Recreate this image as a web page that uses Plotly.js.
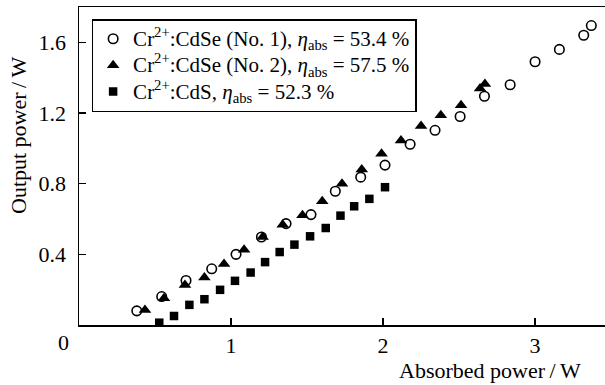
<!DOCTYPE html>
<html>
<head>
<meta charset="utf-8">
<script src="https://cdn.plot.ly/plotly-3.0.1.min.js"></script>
<style>html,body{margin:0;padding:0;background:#fff;}#chart{width:605px;height:385px;}</style>
</head>
<body>
<div id="chart"></div>
<script>
// Series 1: Cr2+:CdSe (No. 1)
const cdse1X = [0.38, 0.544, 0.704, 0.873, 1.033, 1.20, 1.362, 1.526, 1.686, 1.853, 2.013, 2.178, 2.342, 2.507, 2.667, 2.836, 3.0, 3.16, 3.32, 3.37];
const cdse1Y = [0.080, 0.161, 0.252, 0.318, 0.40, 0.498, 0.574, 0.625, 0.757, 0.837, 0.905, 1.023, 1.102, 1.18, 1.295, 1.36, 1.49, 1.56, 1.64, 1.695];
// Series 2: Cr2+:CdSe (No. 2)
const cdse2X = [0.434, 0.559, 0.697, 0.825, 0.954, 1.086, 1.208, 1.34, 1.47, 1.60, 1.73, 1.86, 1.99, 2.118, 2.25, 2.38, 2.513, 2.638, 2.67];
const cdse2Y = [0.085, 0.152, 0.227, 0.269, 0.345, 0.426, 0.498, 0.568, 0.621, 0.70, 0.80, 0.88, 0.97, 1.045, 1.127, 1.187, 1.244, 1.339, 1.364];
// Series 3: Cr2+:CdS
const cdsX = [0.528, 0.625, 0.726, 0.825, 0.928, 1.026, 1.129, 1.224, 1.32, 1.417, 1.52, 1.623, 1.72, 1.81, 1.91, 2.013];
const cdsY = [0.013, 0.051, 0.114, 0.146, 0.199, 0.25, 0.297, 0.356, 0.413, 0.455, 0.502, 0.549, 0.619, 0.672, 0.714, 0.78];

const names = [
  'Cr<sup>2+</sup>:CdSe (No. 1), <i>η</i><sub>abs</sub> = 53.4 %',
  'Cr<sup>2+</sup>:CdSe (No. 2), <i>η</i><sub>abs</sub> = 57.5 %',
  'Cr<sup>2+</sup>:CdS, <i>η</i><sub>abs</sub> = 52.3 %'
];
const xTicks = [1, 2, 3];
const yTicks = [0.4, 0.8, 1.2, 1.6];
const yTickText = ['0.4', '0.8', '1.2', '1.6'];

const FONT = 'Liberation Serif, Times New Roman, serif';
const wrap = s => '<span style="font-size:21px;font-family:Liberation Serif">' + s + '</span>';

const traces = [
  {x: cdse1X, y: cdse1Y, name: wrap(names[0]), type: 'scatter', mode: 'markers',
   marker: {symbol: 'circle-open', size: 9.5, color: '#000', line: {width: 1.6, color: '#000'}}},
  {x: cdse2X, y: cdse2Y, name: wrap(names[1]), type: 'scatter', mode: 'markers',
   marker: {symbol: 'triangle-up', size: 11, color: '#000'}},
  {x: cdsX, y: cdsY, name: wrap(names[2]), type: 'scatter', mode: 'markers',
   marker: {symbol: 'square', size: 8.5, color: '#000'}}
];

const layout = {
  width: 605, height: 385,
  margin: {l: 79, r: 0, t: 7, b: 60},
  paper_bgcolor: '#fff', plot_bgcolor: '#fff',
  font: {family: FONT, size: 22, color: '#000'},
  showlegend: true,
  legend: {x: 0.024, y: 0.962, xanchor: 'left', yanchor: 'top',
           bordercolor: '#000', borderwidth: 1.5, bgcolor: '#fff',
           font: {family: FONT, size: 18, color: '#000'}, tracegroupgap: 0,
           itemwidth: 30},
  xaxis: {range: [0, 3.46], showgrid: false, zeroline: false,
          showline: true, linecolor: '#000', linewidth: 1.5, mirror: true,
          ticks: 'inside', ticklen: 7, tickwidth: 1.5, tickcolor: '#000',
          tickvals: xTicks, ticktext: xTicks.map(String),
          tickfont: {family: FONT, size: 22}},
  yaxis: {range: [0, 1.80], showgrid: false, zeroline: false,
          showline: true, linecolor: '#000', linewidth: 1.5,
          ticks: 'inside', ticklen: 7, tickwidth: 1.5, tickcolor: '#000',
          tickvals: yTicks, ticktext: yTickText, ticklabelstandoff: 7,
          tickfont: {family: FONT, size: 22}},
  annotations: [
    {text: '0', xref: 'paper', yref: 'paper', x: -0.0304, y: -0.0566,
     xanchor: 'center', yanchor: 'middle', showarrow: false, font: {family: FONT, size: 22}},
    {text: 'Absorbed power\u2009/\u2009W', xref: 'paper', yref: 'paper', x: (490 - 79) / 526, y: (325 - 370) / 318,
     xanchor: 'center', yanchor: 'middle', showarrow: false, font: {family: FONT, size: 22}},
    {text: 'Output power\u2009/\u2009W', xref: 'paper', yref: 'paper', x: (18 - 79) / 526, y: (325 - 135) / 318,
     xanchor: 'center', yanchor: 'middle', showarrow: false, textangle: -90, font: {family: FONT, size: 22}}
  ]
};

Plotly.newPlot('chart', traces, layout, {displayModeBar: false, staticPlot: true});
</script>
</body>
</html>
